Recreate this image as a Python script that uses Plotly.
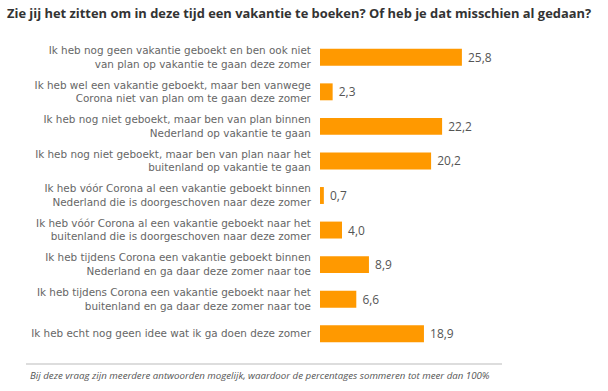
import plotly.graph_objects as go

categories = [
    "Ik heb nog geen vakantie geboekt en ben ook niet<br>van plan op vakantie te gaan deze zomer",
    "Ik heb wel een vakantie geboekt, maar ben vanwege<br>Corona niet van plan om te gaan deze zomer",
    "Ik heb nog niet geboekt, maar ben van plan binnen<br>Nederland op vakantie te gaan",
    "Ik heb nog niet geboekt, maar ben van plan naar het<br>buitenland op vakantie te gaan",
    "Ik heb vóór Corona al een vakantie geboekt binnen<br>Nederland die is doorgeschoven naar deze zomer",
    "Ik heb vóór Corona al een vakantie geboekt naar het<br>buitenland die is doorgeschoven naar deze zomer",
    "Ik heb tijdens Corona een vakantie geboekt binnen<br>Nederland en ga daar deze zomer naar toe",
    "Ik heb tijdens Corona een vakantie geboekt naar het<br>buitenland en ga daar deze zomer naar toe",
    "Ik heb echt nog geen idee wat ik ga doen deze zomer",
]
values = [25.8, 2.3, 22.2, 20.2, 0.7, 4.0, 8.9, 6.6, 18.9]
value_labels = ["25,8", "2,3", "22,2", "20,2", "0,7", "4,0", "8,9", "6,6", "18,9"]

title = "Zie jij het zitten om in deze tijd een vakantie te boeken? Of heb je dat misschien al gedaan?"
footnote = "Bij deze vraag zijn meerdere antwoorden mogelijk, waardoor de percentages sommeren tot meer dan 100%"

W, H = 608, 391
ml, mr, mt, mb = 320, 30, 40, 40
pw = W - ml - mr
ph = H - mt - mb

def px_x(x):
    return (x - ml) / pw

def px_y(y):
    return (H - mb - y) / ph

fig = go.Figure(go.Bar(
    x=values, y=categories, orientation="h",
    marker=dict(color="#FF9900", line=dict(width=0)),
    text=["\u00a0" + t for t in value_labels], textposition="outside", cliponaxis=False,
    textfont=dict(family="Open Sans, sans-serif", size=12, color="#555555"),
    width=0.49,
))

fig.update_layout(
    width=W, height=H,
    margin=dict(l=ml, r=mr, t=mt, b=mb, autoexpand=False),
    paper_bgcolor="white", plot_bgcolor="white",
    showlegend=False,
    title=dict(text="<b>" + title + "</b>", xref="container", yref="container",
               x=7 / W, y=1 - 13 / H, xanchor="left", yanchor="middle",
               font=dict(family="Open Sans, sans-serif", size=12.9, color="#333333")),
    xaxis=dict(range=[0, pw / 5.5], visible=False, fixedrange=True),
    yaxis=dict(autorange="reversed", showgrid=False, zeroline=False, showline=False,
               ticks="outside", ticklen=6, tickcolor="rgba(0,0,0,0)",
               tickfont=dict(family="DejaVu Sans, sans-serif", size=10.4, color="#666666")),
    shapes=[dict(type="line", xref="paper", yref="paper",
                 x0=px_x(26), x1=px_x(502), y0=px_y(364), y1=px_y(364),
                 line=dict(color="#BBBBBB", width=1))],
    annotations=[dict(text="<i>" + footnote + "</i>", xref="paper", yref="paper",
                      x=px_x(28), y=px_y(375), xanchor="left", yanchor="middle",
                      showarrow=False,
                      font=dict(family="Open Sans, sans-serif", size=9.7, color="#555555"))],
)

fig.write_html("out.html", config={"displayModeBar": False},
               post_script="document.body.style.margin='0';")
